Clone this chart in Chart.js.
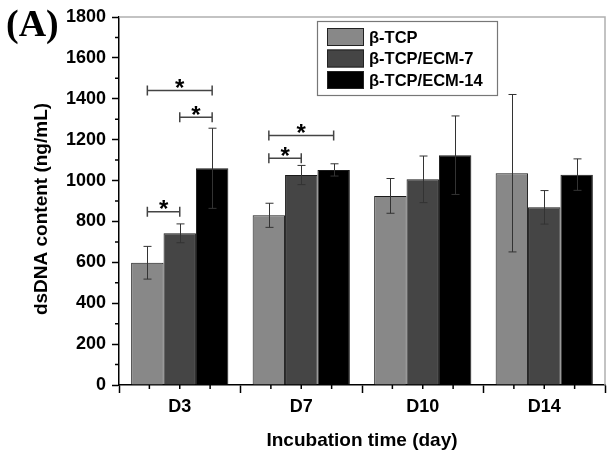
<!DOCTYPE html>
<html><head><meta charset="utf-8">
<script src="https://cdn.jsdelivr.net/npm/chart.js@4.4.0/dist/chart.umd.min.js"></script>
<style>html,body{margin:0;padding:0;background:#fff;}#wrap{width:612px;height:457px;position:relative;}</style>
</head><body><div id="wrap"><canvas id="c" width="612" height="457"></canvas></div>
<script>
const categories = ['D3', 'D7', 'D10', 'D14'];
const seriesNames = ['β-TCP', 'β-TCP/ECM-7', 'β-TCP/ECM-14'];
const tcpMean = [598, 830, 925, 1036];
const tcpErr = [80, 59, 85, 385];
const ecm7Mean = [742, 1027, 1006, 869];
const ecm7Err = [46, 47, 114, 82];
const ecm14Mean = [1060, 1052, 1124, 1029];
const ecm14Err = [196, 30, 192, 77];
const yMin = 0, yMax = 1800, yStep = 200, yMinorStep = 100;
// significance brackets: [category index, from series, to series, bracket height value]
const sigBrackets = [[0, 0, 1, 848], [0, 1, 2, 1310], [0, 0, 2, 1440], [1, 0, 1, 1109], [1, 0, 2, 1220]];
const panelLabel = '(A)';
const xTitle = 'Incubation time (day)';
const yTitle = 'dsDNA content (ng/mL)';

const FONT = "'Liberation Sans', Arial, sans-serif";
const colors = ['#888888', '#454545', '#000000'];
const means = [tcpMean, ecm7Mean, ecm14Mean];
const errs = [tcpErr, ecm7Err, ecm14Err];

const extrasPlugin = {
  id: 'extras',
  afterDatasetsDraw(chart) {
    const ctx = chart.ctx, ys = chart.scales.y;
    ctx.save();
    // error bars
    ctx.strokeStyle = '#333'; ctx.lineWidth = 1;
    means.forEach((m, d) => {
      const meta = chart.getDatasetMeta(d);
      meta.data.forEach((el, i) => {
        const x = Math.round(el.x) + 0.5;
        const t = ys.getPixelForValue(m[i] + errs[d][i]);
        const b = ys.getPixelForValue(m[i] - errs[d][i]);
        ctx.beginPath();
        ctx.moveTo(x, t); ctx.lineTo(x, b);
        ctx.moveTo(x - 4, t); ctx.lineTo(x + 4, t);
        ctx.moveTo(x - 4, b); ctx.lineTo(x + 4, b);
        ctx.stroke();
      });
    });
    // significance brackets
    ctx.strokeStyle = '#444'; ctx.lineWidth = 1.5; ctx.fillStyle = '#000';
    ctx.font = 'bold 24px ' + FONT; ctx.textAlign = 'center'; ctx.textBaseline = 'alphabetic';
    sigBrackets.forEach(([c, a, b, v]) => {
      const x1 = chart.getDatasetMeta(a).data[c].x;
      const x2 = chart.getDatasetMeta(b).data[c].x;
      const y = ys.getPixelForValue(v);
      ctx.beginPath();
      ctx.moveTo(x1, y); ctx.lineTo(x2, y);
      ctx.moveTo(x1, y - 5); ctx.lineTo(x1, y + 5);
      ctx.moveTo(x2, y - 5); ctx.lineTo(x2, y + 5);
      ctx.stroke();
      ctx.fillText('*', (x1 + x2) / 2, y - 7.7 + 0.56 * 24);
    });
    ctx.restore();
  },
  afterDraw(chart) {
    const ctx = chart.ctx, ys = chart.scales.y, xs = chart.scales.x, ca = chart.chartArea;
    ctx.save();
    // frame top & right
    ctx.strokeStyle = '#b0b0b0'; ctx.lineWidth = 1.5;
    ctx.beginPath();
    ctx.moveTo(ca.left, ca.top); ctx.lineTo(ca.right, ca.top); ctx.lineTo(ca.right, ca.bottom);
    ctx.stroke();
    // minor ticks
    ctx.strokeStyle = '#000'; ctx.lineWidth = 1.5;
    ctx.beginPath();
    for (let v = yMin + yMinorStep; v < yMax; v += yStep) {
      const y = ys.getPixelForValue(v);
      ctx.moveTo(ca.left - 4, y); ctx.lineTo(ca.left, y);
    }
    const cw = xs.getPixelForValue(1) - xs.getPixelForValue(0);
    categories.forEach((c, i) => {
      [-0.25, 0, 0.25].forEach(f => {
        const x = xs.getPixelForValue(i) + f * cw;
        ctx.moveTo(x, ca.bottom); ctx.lineTo(x, ca.bottom + 4);
      });
    });
    ctx.stroke();
    // y title
    ctx.fillStyle = '#000';
    ctx.font = 'bold 19px ' + FONT;
    ctx.save();
    ctx.translate(47, (ca.top + ca.bottom) / 2 + 8);
    ctx.rotate(-Math.PI / 2);
    ctx.textAlign = 'center'; ctx.textBaseline = 'alphabetic';
    ctx.fillText(yTitle, 0, 0);
    ctx.restore();
    // panel label
    ctx.font = "bold 38px 'Liberation Serif', 'Times New Roman', serif";
    ctx.textAlign = 'left'; ctx.textBaseline = 'alphabetic';
    ctx.fillText(panelLabel, 6, 36);
    // legend
    const lx = 317, ly = 21, lw = 180, lh = 74;
    ctx.fillStyle = '#fff';
    ctx.fillRect(lx, ly, lw, lh);
    ctx.strokeStyle = '#777'; ctx.lineWidth = 1.2;
    ctx.strokeRect(lx + 0.5, ly + 0.5, lw, lh);
    ctx.font = 'bold 16.5px ' + FONT; ctx.textBaseline = 'middle';
    seriesNames.forEach((n, i) => {
      const ry = ly + 7 + i * 21.5;
      ctx.fillStyle = colors[i];
      ctx.fillRect(lx + 10, ry, 37, 18);
      ctx.strokeStyle = '#222'; ctx.lineWidth = 1;
      ctx.strokeRect(lx + 10.5, ry + 0.5, 36, 17);
      ctx.fillStyle = '#000';
      ctx.fillText(n, lx + 52, ry + 10);
    });
    ctx.restore();
  }
};

new Chart(document.getElementById('c'), {
  type: 'bar',
  data: {
    labels: categories,
    datasets: seriesNames.map((n, i) => ({
      label: n,
      data: means[i],
      backgroundColor: colors[i],
      borderColor: '#1a1a1a',
      borderWidth: 1,
      categoryPercentage: 0.8,
      barPercentage: 1.0
    }))
  },
  options: {
    responsive: false,
    animation: false,
    events: [],
    layout: { padding: { left: 0, top: 17, right: 7, bottom: 0 } },
    plugins: { legend: { display: false }, tooltip: { enabled: false } },
    scales: {
      x: {
        type: 'category',
        offset: true,
        grid: { offset: true, drawOnChartArea: false, drawTicks: true, tickLength: 8, tickColor: '#000', tickWidth: 1.5 },
        border: { display: true, color: '#000', width: 1.5 },
        ticks: { font: { family: FONT, size: 18, weight: 'bold' }, color: '#000', padding: 3, maxRotation: 0 },
        title: { display: true, text: xTitle, font: { family: FONT, size: 19, weight: 'bold' }, color: '#000', padding: { top: 0, bottom: 5 } },
        afterFit(s) { s.height = 72; }
      },
      y: {
        min: yMin, max: yMax,
        grid: { drawOnChartArea: false, drawTicks: true, tickLength: 7, tickColor: '#000', tickWidth: 1.5 },
        border: { display: true, color: '#000', width: 1.5 },
        ticks: { stepSize: yStep, font: { family: FONT, size: 18, weight: 'bold' }, color: '#000', padding: 6, callback: v => String(v) },
        afterFit(s) { s.width = 119; }
      }
    }
  },
  plugins: [extrasPlugin]
});
</script></body></html>
